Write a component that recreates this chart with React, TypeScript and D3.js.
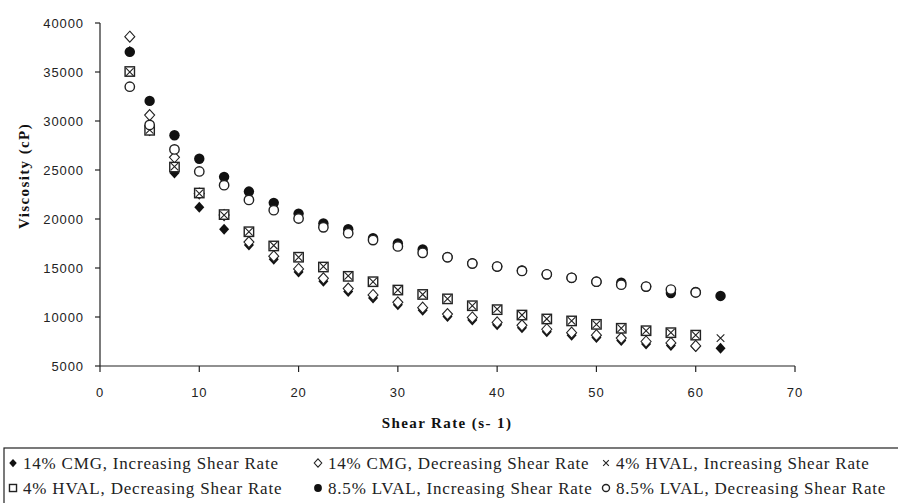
import React from "react";
import * as d3 from "d3";

// Shear rates (s-1): increasing sweep ends at 62.5, decreasing sweep at 60
const shearInc = [3, 5, 7.5, 10, 12.5, 15, 17.5, 20, 22.5, 25, 27.5, 30, 32.5, 35, 37.5, 40, 42.5, 45, 47.5, 50, 52.5, 55, 57.5, 60, 62.5];
const shearDec = [3, 5, 7.5, 10, 12.5, 15, 17.5, 20, 22.5, 25, 27.5, 30, 32.5, 35, 37.5, 40, 42.5, 45, 47.5, 50, 52.5, 55, 57.5, 60];

// Viscosity (cP)
const cmgInc = [37100, 29000, 24700, 21200, 18950, 17350, 15900, 14600, 13650, 12600, 11950, 11250, 10700, 10050, 9700, 9200, 8900, 8500, 8150, 7900, 7600, 7250, 7100, 7000, 6800];
const cmgDec = [38600, 30600, 26300, 22600, 20400, 17650, 16200, 14900, 13950, 12900, 12250, 11500, 10950, 10300, 9950, 9450, 9150, 8750, 8400, 8150, 7850, 7500, 7350, 7050];
const hvalInc = [35000, 29100, 25350, 22600, 20400, 18700, 17300, 16100, 15150, 14200, 13600, 12750, 12300, 11850, 11150, 10800, 10200, 9800, 9600, 9250, 8850, 8600, 8400, 8150, 7850];
const hvalDec = [35050, 29050, 25300, 22650, 20450, 18700, 17250, 16100, 15100, 14150, 13600, 12750, 12300, 11850, 11150, 10750, 10200, 9800, 9600, 9250, 8850, 8600, 8400, 8150];
const lvalInc = [37050, 32050, 28550, 26150, 24300, 22800, 21650, 20550, 19550, 18950, 18050, 17500, 16900, 16100, 15500, 15150, 14750, 14350, 14000, 13600, 13500, 13100, 12450, 12550, 12150];
const lvalDec = [33500, 29600, 27100, 24850, 23450, 21950, 20900, 20050, 19150, 18550, 17850, 17200, 16550, 16100, 15450, 15150, 14700, 14350, 14000, 13600, 13300, 13100, 12800, 12500];

const xTicks = [0, 10, 20, 30, 40, 50, 60, 70];
const yTicks = [5000, 10000, 15000, 20000, 25000, 30000, 35000, 40000];

const legendRows = [
  [
    { marker: "diamondFilled", label: "14% CMG, Increasing Shear Rate" },
    { marker: "diamondOpen", label: "14% CMG, Decreasing Shear Rate" },
    { marker: "cross", label: "4% HVAL, Increasing Shear Rate" },
  ],
  [
    { marker: "squareOpen", label: "4% HVAL, Decreasing Shear Rate" },
    { marker: "circleFilled", label: "8.5% LVAL, Increasing Shear Rate" },
    { marker: "circleOpen", label: "8.5% LVAL, Decreasing Shear Rate" },
  ],
];

const W = 898;
const H = 503;
const plot = { left: 100, right: 795, top: 23, bottom: 366 };

const x = d3.scaleLinear().domain([0, 70]).range([plot.left, plot.right]);
const y = d3.scaleLinear().domain([5000, 40000]).range([plot.bottom, plot.top]);

function Marker({ kind, cx, cy, s = 1 }: { kind: string; cx: number; cy: number; s?: number }) {
  switch (kind) {
    case "diamondFilled": {
      const w = 5 * s, h = 5.5 * s;
      return <path d={`M${cx},${cy - h}L${cx + w},${cy}L${cx},${cy + h}L${cx - w},${cy}Z`} fill="#111" />;
    }
    case "diamondOpen": {
      const w = 5 * s, h = 5.5 * s;
      return <path d={`M${cx},${cy - h}L${cx + w},${cy}L${cx},${cy + h}L${cx - w},${cy}Z`} fill="#fff" stroke="#222" strokeWidth={1.1} />;
    }
    case "cross": {
      const r = 3.8 * s;
      return (
        <path d={`M${cx - r},${cy - r}L${cx + r},${cy + r}M${cx - r},${cy + r}L${cx + r},${cy - r}`} stroke="#222" strokeWidth={1.1} fill="none" />
      );
    }
    case "squareOpen": {
      const r = 4.7 * s;
      return <rect x={cx - r} y={cy - r} width={2 * r} height={2 * r} fill="#fff" stroke="#222" strokeWidth={1.4} />;
    }
    case "circleFilled":
      return <circle cx={cx} cy={cy} r={5.2 * s} fill="#111" />;
    case "circleOpen":
      return <circle cx={cx} cy={cy} r={4.7 * s} fill="#fff" stroke="#222" strokeWidth={1.4} />;
    default:
      return null;
  }
}

function Series({ xs, ys, kind }: { xs: number[]; ys: number[]; kind: string }) {
  return (
    <g>
      {ys.map((v, i) => (
        <Marker key={i} kind={kind} cx={x(xs[i])} cy={y(v)} />
      ))}
    </g>
  );
}

export default function App() {
  const legendCols = [13, 318, 606];
  const legendRowY = [463, 488];
  return (
    <svg width={W} height={H} style={{ display: "block", position: "absolute", left: 0, top: 0 }}>
      <rect width={W} height={H} fill="#fff" />

      {/* axes */}
      <g stroke="#222" strokeWidth={1.2} fill="none">
        <line x1={plot.left} y1={plot.top} x2={plot.left} y2={plot.bottom} />
        <line x1={plot.left} y1={plot.bottom} x2={plot.right} y2={plot.bottom} />
        {yTicks.map((t) => (
          <line key={t} x1={plot.left - 5} x2={plot.left} y1={y(t)} y2={y(t)} />
        ))}
        {xTicks.map((t) => (
          <line key={t} x1={x(t)} x2={x(t)} y1={plot.bottom} y2={plot.bottom + 6} />
        ))}
      </g>

      <g fontFamily="'Liberation Sans', Arial, sans-serif" fontSize={13} fill="#222" letterSpacing={0.9}>
        {yTicks.map((t) => (
          <text key={t} x={84} y={y(t)} dy="0.35em" textAnchor="end">
            {t}
          </text>
        ))}
        {xTicks.map((t) => (
          <text key={t} x={x(t)} y={397} textAnchor="middle">
            {t}
          </text>
        ))}
      </g>

      {/* axis titles */}
      <text
        x={447}
        y={428}
        textAnchor="middle"
        fontFamily="'Liberation Serif', 'Times New Roman', serif"
        fontWeight="bold"
        fontSize={15}
        letterSpacing={1.4}
        fill="#111"
      >
        Shear Rate (s- 1)
      </text>
      <text
        transform="translate(29,176) rotate(-90)"
        textAnchor="middle"
        fontFamily="'Liberation Serif', 'Times New Roman', serif"
        fontWeight="bold"
        fontSize={15}
        letterSpacing={1.4}
        fill="#111"
      >
        Viscosity (cP)
      </text>

      {/* data markers, drawn in series order */}
      <Series xs={shearInc} ys={cmgInc} kind="diamondFilled" />
      <Series xs={shearDec} ys={cmgDec} kind="diamondOpen" />
      <Series xs={shearDec} ys={hvalDec} kind="squareOpen" />
      <Series xs={shearInc} ys={hvalInc} kind="cross" />
      <Series xs={shearInc} ys={lvalInc} kind="circleFilled" />
      <Series xs={shearDec} ys={lvalDec} kind="circleOpen" />

      {/* legend */}
      <rect x={4} y={448} width={1000} height={100} fill="none" stroke="#222" strokeWidth={1.2} />
      <g fontFamily="'Liberation Serif', 'Times New Roman', serif" fontSize={17} fill="#222" letterSpacing={0.8}>
        {legendRows.map((row, ri) =>
          row.map((item, ci) => (
            <g key={`${ri}-${ci}`}>
              <Marker kind={item.marker} cx={legendCols[ci]} cy={legendRowY[ri]} s={0.75} />
              <text x={legendCols[ci] + 10} y={legendRowY[ri]} dy="0.35em">
                {item.label}
              </text>
            </g>
          ))
        )}
      </g>
    </svg>
  );
}
